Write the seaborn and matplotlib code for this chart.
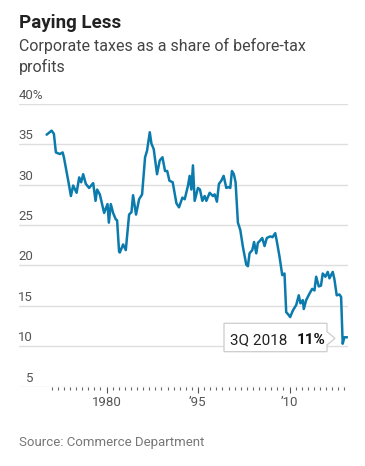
import matplotlib
matplotlib.use("Agg")
import matplotlib.pyplot as plt
import matplotlib.transforms as mtransforms
from matplotlib.patches import Polygon
import pandas as pd
import seaborn as sns

# quarterly-ish readings of the line (year position, percent)
years = [1970.18, 1971.00, 1971.37, 1971.70, 1972.36, 1972.80, 1973.01, 1973.72,
         1974.16, 1974.53, 1975.09, 1975.52, 1975.84, 1976.17, 1976.61, 1977.15,
         1977.81, 1978.20, 1978.46, 1978.90, 1979.61, 1980.16, 1980.38, 1980.70,
         1981.08, 1981.52, 1981.73, 1982.06, 1982.18, 1982.72, 1983.16, 1983.70,
         1984.09, 1984.35, 1984.84, 1985.34, 1985.83, 1986.32, 1986.64, 1987.09,
         1987.36, 1987.74, 1988.28, 1988.72, 1989.17, 1989.59, 1989.95, 1990.31,
         1990.85, 1991.46, 1991.88, 1992.44, 1992.82, 1993.36, 1993.63, 1993.91,
         1994.17, 1994.45, 1994.99, 1995.32, 1995.71, 1996.09, 1996.37, 1996.91,
         1997.45, 1997.73, 1998.10, 1998.43, 1998.82, 1999.20, 1999.64, 1999.97,
         2000.29, 2000.56, 2000.88, 2001.16, 2001.54, 2001.93, 2002.36, 2002.91,
         2003.18, 2003.45, 2003.90, 2004.19, 2004.55, 2004.81, 2005.09, 2005.53,
         2005.91, 2006.28, 2006.84, 2007.22, 2007.66, 2007.92, 2008.36, 2008.81,
         2009.18, 2009.46, 2009.72, 2010.11, 2010.54, 2011.10, 2011.52, 2011.80,
         2012.18, 2012.34, 2012.73, 2013.27, 2013.72, 2014.09, 2014.37, 2014.80,
         2015.16, 2015.45, 2015.89, 2016.27, 2016.55, 2017.09, 2017.36, 2017.74,
         2018.18, 2018.46, 2018.72, 2019.00, 2019.44]
tax_share = [36.2, 36.7, 36.3, 34.0, 33.8, 34.0, 33.4, 30.5,
             28.6, 29.9, 29.0, 30.9, 30.3, 31.3, 30.1, 29.6,
             30.2, 28.0, 29.4, 28.8, 26.5, 27.6, 25.3, 27.6,
             26.5, 25.7, 25.6, 21.7, 21.6, 22.6, 21.9, 26.3,
             26.6, 28.7, 26.3, 28.2, 28.8, 33.4, 34.2, 36.5,
             35.1, 34.4, 31.3, 33.0, 33.4, 31.7, 31.7, 30.5,
             30.3, 27.7, 27.2, 28.4, 28.2, 29.9, 31.1, 29.4,
             32.4, 28.0, 29.6, 29.4, 28.0, 28.6, 28.0, 29.0,
             28.6, 28.8, 27.9, 30.1, 30.5, 31.1, 29.6, 29.7,
             29.6, 31.7, 31.3, 30.3, 25.3, 24.4, 22.3, 20.1,
             19.9, 21.5, 21.9, 22.9, 21.5, 22.8, 23.0, 23.4,
             22.4, 23.4, 23.6, 23.5, 24.0, 23.0, 21.1, 18.8,
             19.0, 14.2, 14.0, 13.6, 14.4, 15.1, 16.3, 15.3,
             15.7, 14.6, 15.7, 16.5, 17.1, 16.9, 18.6, 17.4,
             17.5, 19.0, 18.6, 19.2, 18.4, 19.2, 18.3, 16.3,
             16.4, 16.1, 10.3, 11.1, 11.1]

y_ticks = [5, 10, 15, 20, 25, 30, 35, 40]
x_major = [1980, 1995, 2010]
x_major_labels = ['1980', '\u201995', '\u201910']
x_minor = list(range(1971, 2020))

latest_label = '3Q 2018'
latest_value = '11%'

W, H = 365, 466
line_color = '#0b7bad'

sns.set_style('white')
plt.rcParams['font.family'] = ['Roboto', 'DejaVu Sans']

fig = plt.figure(figsize=(W / 100, H / 100), dpi=100)
ax = fig.add_axes([19 / W, 1 - 386.5 / H, (348.3 - 19) / W, (386.5 - 104) / H])

df = pd.DataFrame({'year': years, 'share': tax_share})
sns.lineplot(data=df, x='year', y='share', ax=ax, color=line_color,
             linewidth=1.8, zorder=3)

ax.set_xlim(1965.65, 2019.64)
ax.set_ylim(5, 40)
for s in ax.spines.values():
    s.set_visible(False)
for v in y_ticks:
    ax.axhline(v, color='#dedede', lw=1.0, zorder=1)

ax.set_yticks([])
ax.set_xticks(x_major)
ax.set_xticklabels(x_major_labels)
ax.set_xticks(x_minor, minor=True)
ax.tick_params(axis='x', which='both', bottom=True, direction='out')
ax.tick_params(axis='x', which='major', length=4.5, width=0.8, color='#555555',
               labelsize=9.5, labelcolor='#555555', pad=2.5)
ax.tick_params(axis='x', which='minor', length=2.5, width=0.8, color='#666666')
ax.set_xlabel('')
ax.set_ylabel('')

# y labels sit above their gridlines
ylab_trans = mtransforms.blended_transform_factory(fig.transFigure, ax.transData)
ylab_trans = mtransforms.offset_copy(ylab_trans, fig=fig, y=2, units='dots')
for v in y_ticks:
    if v == 40:
        ax.text(19 / W, v, f'{v}%', transform=ylab_trans, ha='left', va='bottom',
                fontsize=9.5, color='#555555')
    else:
        ax.text(33 / W, v, str(v), transform=ylab_trans, ha='right', va='bottom',
                fontsize=9.5, color='#555555')

# pixel coords helper (origin top-left)
px = mtransforms.Affine2D().scale(1 / W, -1 / H).translate(0, 1) + fig.transFigure

fig.text(19, 28, 'Paying Less', transform=px, fontsize=13.5, fontweight='bold',
         color='#222222', va='baseline')
fig.text(19, 51, 'Corporate taxes as a share of before-tax', transform=px,
         fontsize=11.5, color='#444444', va='baseline')
fig.text(19, 72, 'profits', transform=px, fontsize=11.5, color='#444444',
         va='baseline')
fig.text(19, 446, 'Source: Commerce Department', transform=px, fontsize=9.5,
         color='#777777', va='baseline')

# callout box for latest reading
box = Polygon([(224, 323.3), (327, 323.3), (327, 331.7), (335, 338.3),
               (327, 345), (327, 351.7), (224, 351.7)], closed=True,
              transform=px, facecolor='white', edgecolor='#cccccc', lw=0.9,
              zorder=5)
fig.add_artist(box)
fig.text(230, 344.5, latest_label, transform=px, fontsize=11, color='#222222',
         va='baseline', zorder=6)
fig.text(297, 344.5, latest_value, transform=px, fontsize=11, fontweight='bold',
         color='#111111', va='baseline', zorder=6)

fig.savefig('out.png', dpi=100)
